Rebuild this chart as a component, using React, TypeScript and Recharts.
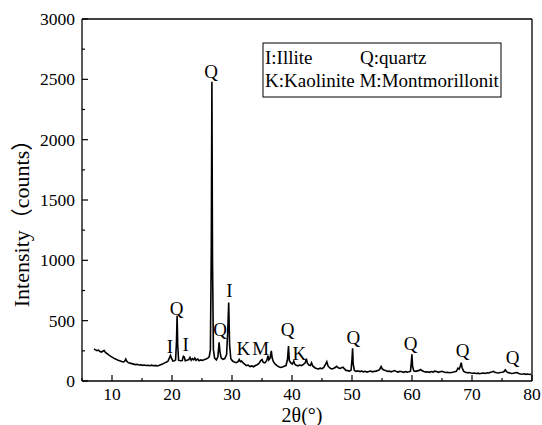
import {
  ComposedChart,
  Line,
  XAxis,
  YAxis,
  ReferenceLine,
  ReferenceDot,
  Customized,
} from "recharts";

const FONT = "'Liberation Serif', 'Times New Roman', 'Noto Sans CJK SC', serif";

// 2θ positions (degrees)
const twoTheta = [
  7.0, 7.25, 7.5, 7.75, 8.0, 8.25, 8.5, 8.7, 8.9, 9.2,
  9.5, 9.8, 10.1, 10.4, 10.7, 11.0, 11.3, 11.6, 11.9, 12.1,
  12.3, 12.45, 12.7, 13.0, 13.3, 13.6, 13.9, 14.2, 14.5, 14.8,
  15.1, 15.4, 15.7, 16.0, 16.3, 16.6, 16.9, 17.2, 17.5, 17.8,
  18.1, 18.4, 18.7, 19.0, 19.3, 19.55, 19.75, 19.95, 20.15, 20.4,
  20.6, 20.75, 20.85, 20.95, 21.1, 21.4, 21.7, 21.9, 22.05, 22.2,
  22.5, 22.8, 23.0, 23.2, 23.4, 23.6, 23.8, 24.0, 24.3, 24.5,
  24.8, 25.1, 25.4, 25.7, 25.95, 26.2, 26.4, 26.55, 26.65, 26.75,
  26.9, 27.1, 27.4, 27.65, 27.85, 28.0, 28.2, 28.5, 28.8, 29.1,
  29.3, 29.45, 29.6, 29.8, 30.1, 30.4, 30.7, 31.0, 31.2, 31.4,
  31.6, 31.85, 32.1, 32.4, 32.7, 33.0, 33.3, 33.6, 33.9, 34.2,
  34.5, 34.8, 35.0, 35.2, 35.5, 35.8, 36.0, 36.15, 36.35, 36.55,
  36.7, 36.9, 37.2, 37.5, 37.8, 38.1, 38.4, 38.7, 39.0, 39.25,
  39.42, 39.55, 39.8, 40.05, 40.3, 40.45, 40.7, 41.0, 41.3, 41.6,
  41.9, 42.2, 42.4, 42.55, 42.8, 43.05, 43.25, 43.45, 43.8, 44.1,
  44.4, 44.7, 45.0, 45.3, 45.6, 45.8, 46.0, 46.3, 46.6, 46.9,
  47.2, 47.45, 47.7, 48.0, 48.25, 48.5, 48.75, 49.0, 49.3, 49.6,
  49.85, 50.0, 50.1, 50.2, 50.4, 50.7, 51.0, 51.3, 51.6, 51.9,
  52.2, 52.5, 52.8, 53.1, 53.4, 53.7, 54.0, 54.3, 54.6, 54.85,
  55.05, 55.3, 55.6, 55.9, 56.2, 56.5, 56.8, 57.1, 57.4, 57.7,
  58.0, 58.3, 58.6, 58.9, 59.2, 59.5, 59.75, 59.9, 59.98, 60.1,
  60.3, 60.6, 60.9, 61.2, 61.45, 61.7, 62.0, 62.3, 62.6, 62.9,
  63.2, 63.5, 63.8, 64.1, 64.4, 64.7, 65.0, 65.3, 65.6, 65.9,
  66.2, 66.5, 66.8, 67.1, 67.4, 67.65, 67.85, 68.05, 68.2, 68.35,
  68.6, 68.9, 69.2, 69.5, 69.8, 70.1, 70.4, 70.7, 71.0, 71.3,
  71.6, 71.9, 72.2, 72.5, 72.8, 73.1, 73.4, 73.6, 73.8, 74.1,
  74.4, 74.7, 75.0, 75.3, 75.55, 75.75, 76.0, 76.3, 76.6, 76.9,
  77.2, 77.5, 77.8, 78.1, 78.4, 78.7, 79.0, 79.3, 79.6, 79.9,
];

// intensity (counts) at each 2θ above
const counts = [
  265, 258, 252, 256, 244, 240, 248, 252, 236, 226,
  214, 204, 196, 186, 180, 172, 168, 162, 158, 162,
  182, 166, 152, 148, 144, 140, 136, 138, 133, 135,
  130, 132, 128, 130, 127, 131, 126, 129, 124, 128,
  134, 140, 148, 155, 162, 190, 212, 185, 165, 168,
  175, 330, 540, 300, 172, 168, 170, 205, 200, 168,
  172, 178, 195, 172, 185, 176, 190, 172, 182, 168,
  175, 170, 178, 182, 190, 200, 260, 1100, 2480, 1000,
  260, 190, 175, 200, 320, 240, 190, 180, 185, 220,
  420, 650, 300, 185, 165, 158, 152, 160, 178, 160,
  165, 150, 140, 128, 132, 120, 125, 118, 128, 135,
  145, 170, 178, 155, 150, 170, 210, 175, 190, 250,
  190, 160, 140, 128, 118, 112, 116, 122, 128, 180,
  290, 170, 150, 140, 165, 140, 130, 126, 132, 128,
  138, 150, 185, 150, 132, 128, 150, 125, 110, 104,
  100, 106, 102, 112, 140, 160, 125, 108, 100, 104,
  112, 122, 110, 104, 110, 115, 100, 88, 86, 82,
  90, 180, 272, 140, 88, 80, 84, 78, 82, 76,
  80, 74, 78, 82, 76, 80, 82, 86, 94, 120,
  100, 92, 88, 80, 82, 76, 80, 86, 78, 74,
  80, 76, 72, 78, 74, 76, 82, 160, 222, 120,
  84, 80, 84, 88, 95, 84, 78, 74, 76, 72,
  78, 74, 82, 78, 72, 76, 80, 74, 70, 72,
  68, 70, 72, 76, 80, 106, 98, 125, 152, 110,
  82, 72, 68, 70, 66, 64, 66, 62, 65, 60,
  64, 66, 62, 68, 66, 72, 76, 80, 72, 68,
  66, 70, 72, 76, 92, 78, 70, 66, 62, 64,
  68, 70, 62, 58, 56, 60, 55, 58, 54, 56,
];

// phase letters over the peaks
const peakLetters = ["I", "Q", "I", "Q", "Q", "I", "K", "M", "Q", "K", "Q", "Q", "Q", "Q"];
const peakAngles = [19.67, 20.78, 22.28, 26.5, 28.0, 29.55, 31.88, 34.78, 39.28, 41.22, 50.22, 59.78, 68.45, 76.78];
const peakHeights = [290, 602, 299, 2561, 428, 754, 270, 270, 423, 224, 361, 312, 252, 195];

const xTicks = [5, 10, 15, 20, 25, 30, 35, 40, 45, 50, 55, 60, 65, 70, 75, 80];
const yTicks = [0, 250, 500, 750, 1000, 1250, 1500, 1750, 2000, 2250, 2500, 2750, 3000];

const data = twoTheta.map((a, i) => ({ angle: a, counts: counts[i] }));

const textStyle = { fontFamily: FONT };

function XTick({ x, y, payload }: any) {
  const major = payload.value % 10 === 0;
  return (
    <g>
      <line x1={x} y1={y} x2={x} y2={y - (major ? 6 : 3)} stroke="#000" strokeWidth={1.2} />
      {major && (
        <text x={x} y={y + 19} textAnchor="middle" fontSize={17.5} style={textStyle} fill="#000">
          {payload.value}
        </text>
      )}
    </g>
  );
}

function YTick({ x, y, payload }: any) {
  const major = payload.value % 500 === 0;
  return (
    <g>
      <line x1={x} y1={y} x2={x + (major ? 6 : 3)} y2={y} stroke="#000" strokeWidth={1.2} />
      {major && (
        <text x={x - 7} y={y + 6} textAnchor="end" fontSize={17.5} style={textStyle} fill="#000">
          {payload.value}
        </text>
      )}
    </g>
  );
}

function Annotations() {
  return (
    <g style={textStyle} fill="#000">
      <text x={21} y={218} transform="rotate(-90 21 218)" textAnchor="middle" dominantBaseline="central" fontSize={22}>
        Intensity（counts）
      </text>
      <text x={302} y={422} textAnchor="middle" fontSize={20}>
        2θ(°)
      </text>
      <rect x={263} y={43} width={238} height={54} fill="#fff" stroke="#000" strokeWidth={1} />
      <text x={265} y={64} fontSize={19}>I:Illite</text>
      <text x={360} y={64} fontSize={19}>Q:quartz</text>
      <text x={265} y={87} fontSize={19}>K:Kaolinite M:Montmorillonit</text>
    </g>
  );
}

export default function App() {
  return (
    <div style={{ position: "absolute", left: 0, top: 0, background: "#fff" }}>
      <ComposedChart
        width={542}
        height={425}
        data={data}
        margin={{ top: 19, right: 10, bottom: 0, left: 0 }}
      >
        <XAxis
          dataKey="angle"
          type="number"
          domain={[5, 80]}
          ticks={xTicks}
          interval={0}
          height={44}
          tickSize={0}
          tickMargin={0}
          tickLine={false}
          tick={<XTick />}
          axisLine={{ stroke: "#000", strokeWidth: 1.3 }}
          allowDataOverflow
        />
        <YAxis
          type="number"
          domain={[0, 3000]}
          ticks={yTicks}
          interval={0}
          width={82}
          tickSize={0}
          tickMargin={0}
          tickLine={false}
          tick={<YTick />}
          axisLine={{ stroke: "#000", strokeWidth: 1.3 }}
          allowDataOverflow
        />
        <ReferenceLine y={3000} stroke="#000" strokeWidth={1.3} />
        <ReferenceLine x={80} stroke="#000" strokeWidth={1.3} />
        <Line
          dataKey="counts"
          type="linear"
          stroke="#000"
          strokeWidth={1.6}
          dot={false}
          isAnimationActive={false}
        />
        {peakLetters.map((t, i) => (
          <ReferenceDot
            key={i}
            x={peakAngles[i]}
            y={peakHeights[i]}
            r={0}
            shape={(p: any) => (
              <text
                x={p.cx}
                y={p.cy}
                dy={6.5}
                textAnchor="middle"
                fontSize={19}
                style={textStyle}
                fill="#000"
              >
                {t}
              </text>
            )}
          />
        ))}
        <Customized component={Annotations} />
      </ComposedChart>
    </div>
  );
}
